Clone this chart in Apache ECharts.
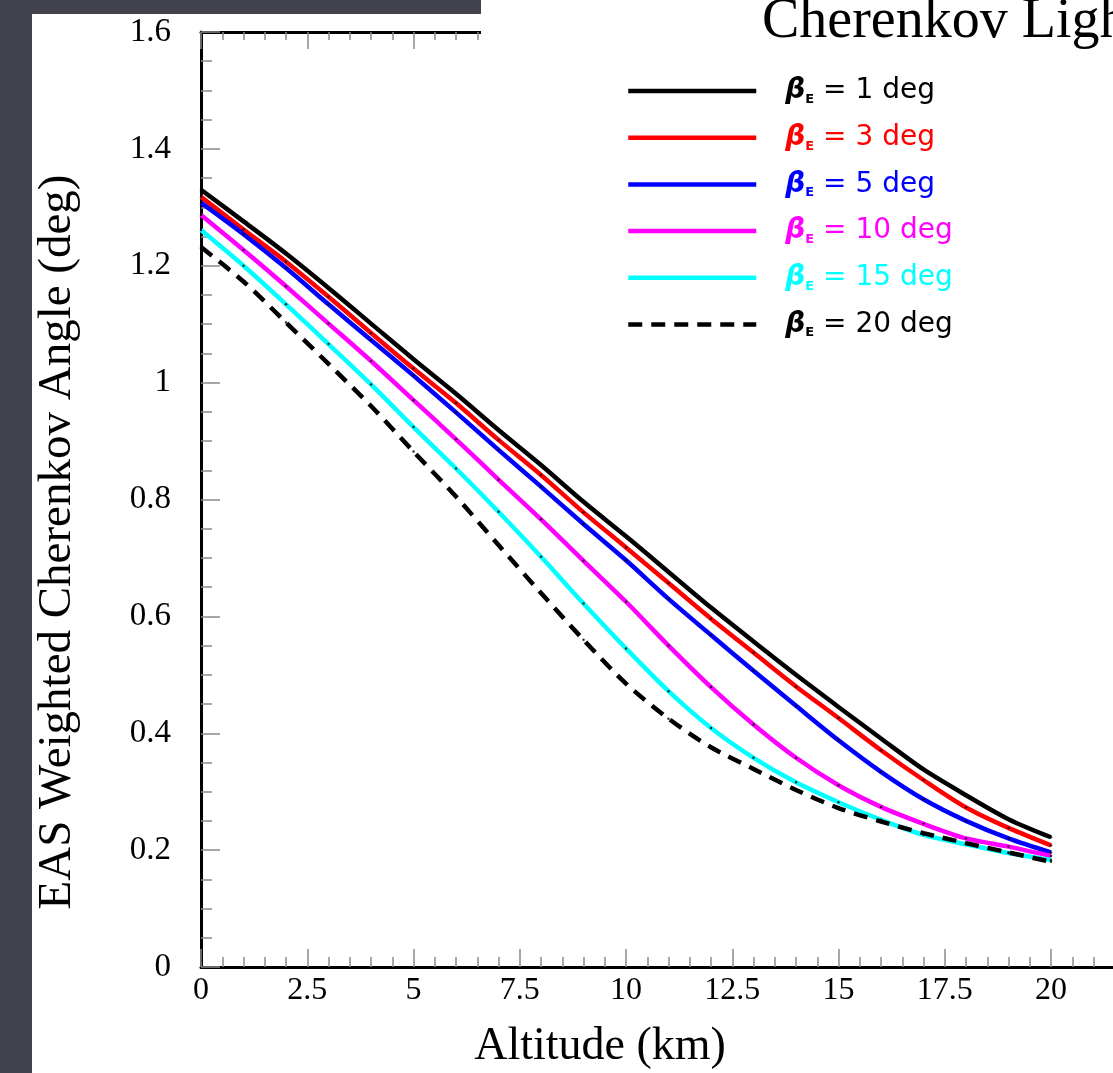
<!DOCTYPE html>
<html><head><meta charset="utf-8">
<script src="https://cdn.jsdelivr.net/npm/echarts@6/dist/echarts.min.js"></script>
<style>html,body{margin:0;padding:0;background:#fff;overflow:hidden}#c{width:1113px;height:1073px}</style>
</head><body><div id="c"></div>
<script>
// ---- data ----
const altitudeKm = [0,1,2,3,4,5,6,7,8,9,10,11,12,13,14,15,16,17,18,19,20];
const beta1deg  = [1.330,1.276,1.221,1.162,1.101,1.040,0.981,0.919,0.859,0.796,0.737,0.676,0.615,0.557,0.500,0.445,0.391,0.338,0.294,0.253,0.222];
const beta3deg  = [1.318,1.262,1.207,1.147,1.085,1.024,0.965,0.902,0.842,0.778,0.718,0.657,0.596,0.538,0.480,0.426,0.371,0.320,0.273,0.238,0.208];
const beta5deg  = [1.308,1.254,1.196,1.134,1.073,1.012,0.949,0.885,0.822,0.758,0.696,0.630,0.568,0.507,0.447,0.388,0.334,0.287,0.250,0.220,0.196];
const beta10deg = [1.287,1.227,1.165,1.101,1.037,0.970,0.903,0.834,0.766,0.695,0.625,0.550,0.479,0.415,0.358,0.311,0.274,0.245,0.220,0.206,0.190];
const beta15deg = [1.261,1.200,1.134,1.066,0.997,0.924,0.853,0.779,0.702,0.622,0.545,0.472,0.409,0.358,0.316,0.282,0.252,0.226,0.210,0.195,0.183];
const beta20deg = [1.232,1.173,1.103,1.032,0.960,0.882,0.805,0.722,0.640,0.560,0.485,0.425,0.376,0.339,0.303,0.272,0.249,0.229,0.212,0.196,0.180];
const seriesLabels = ['1 deg','3 deg','5 deg','10 deg','15 deg','20 deg'];
const xTickLabels = ['0','2.5','5','7.5','10','12.5','15','17.5','20','22.5'];
const yTickLabels = ['0','0.2','0.4','0.6','0.8','1','1.2','1.4','1.6'];
const chartTitle = 'Cherenkov Light';
const xTitle = 'Altitude (km)';
const yTitle = 'EAS Weighted Cherenkov Angle (deg)';

// ---- styling ----
const allValues = [beta1deg,beta3deg,beta5deg,beta10deg,beta15deg,beta20deg];
const colors = ['#000000','#ff0000','#0000ff','#ff00ff','#00ffff','#000000'];
const dash = ['solid','solid','solid','solid','solid',[14,9]];
const keys = ['k','r','b','m','c','d'];
const serif = "'Liberation Serif','Times New Roman',serif";
const sans = "'DejaVu Sans',sans-serif";

const rich = {};
keys.forEach((k,i)=>{
  rich[k+'g'] = {fontFamily:sans,fontSize:28,fontStyle:'italic',fontWeight:'bold',color:colors[i],padding:[0,0,0,24],lineHeight:30};
  rich[k+'s'] = {fontFamily:sans,fontSize:13,fontWeight:'bold',color:colors[i],verticalAlign:'bottom',lineHeight:22};
  rich[k+'t'] = {fontFamily:sans,fontSize:28,color:colors[i],lineHeight:30};
});

const lineSeries = allValues.map((vals,i)=>({
  name: seriesLabels[i],
  type:'line',
  data: altitudeKm.map((x,j)=>[x, vals[j]]),
  smooth: 0.3,
  symbol:'none',
  lineStyle:{color:colors[i], width:4.5, type:dash[i]},
  itemStyle:{color:colors[i]},
  z: 3 + i*0.01
}));
const dotSeries = {
  type:'scatter',
  data: allValues.flatMap(vals=>altitudeKm.map((x,j)=>[x, vals[j]])),
  symbolSize:2.5,
  itemStyle:{color:'#000'},
  silent:true,
  z:5
};

const tickGray = '#8a8a8a';
function axisCommon(extra){
  return Object.assign({
    type:'value',
    axisLine:{show:true,onZero:false,lineStyle:{color:'#000',width:3}},
    splitLine:{show:false}
  }, extra);
}

const chart = echarts.init(document.getElementById('c'), null, {renderer:'canvas'});
chart.setOption({
  animation:false,
  backgroundColor:'#ffffff',
  grid:{left:201, top:32, width:956.25, height:935, containLabel:false, outerBoundsMode:'none'},
  xAxis:[
    axisCommon({position:'bottom', min:0, max:22.5, interval:2.5,
      axisTick:{show:true,inside:true,length:18,lineStyle:{color:tickGray,width:1.5}},
      minorTick:{show:true,splitNumber:5,length:10,lineStyle:{color:tickGray,width:1.5}},
      axisLabel:{margin:8,fontFamily:serif,fontSize:32,color:'#000',
        formatter:(v)=>xTickLabels[Math.round(v/2.5)]}}),
    axisCommon({position:'top', min:0, max:22.5, interval:2.5,
      axisTick:{show:true,inside:true,length:17,lineStyle:{color:tickGray,width:1.5}},
      minorTick:{show:true,splitNumber:5,length:8,lineStyle:{color:tickGray,width:1.5}},
      axisLabel:{show:false}})
  ],
  yAxis:[
    axisCommon({position:'left', min:0, max:1.6, interval:0.2,
      axisTick:{show:true,inside:true,length:19,lineStyle:{color:tickGray,width:1.5}},
      minorTick:{show:true,splitNumber:4,length:11,lineStyle:{color:tickGray,width:1.5}},
      axisLabel:{margin:30,fontFamily:serif,fontSize:33,color:'#000',
        formatter:(v)=>yTickLabels[Math.round(v/0.2)]}})
  ],
  legend:{
    orient:'vertical', left:626, top:76, padding:0,
    itemWidth:128, itemHeight:30, itemGap:16.7,
    selectedMode:false,
    lineStyle:{width:'inherit'},
    itemStyle:{color:'rgba(0,0,0,0)', borderWidth:0, opacity:0},
    data: seriesLabels.slice(),
    textStyle:{rich:rich, lineHeight:30},
    formatter:(name)=>{
      const i = seriesLabels.indexOf(name); const k = keys[i];
      return '{'+k+'g|β}{'+k+'s|E}{'+k+'t| = '+name+'}';
    }
  },
  graphic:[
    {type:'rect', shape:{x:0,y:0,width:32,height:1073}, style:{fill:'#41424c'}, z:200, silent:true},
    {type:'rect', shape:{x:0,y:0,width:481,height:14}, style:{fill:'#41424c'}, z:200, silent:true},
    {type:'rect', shape:{x:481,y:0,width:700,height:52}, style:{fill:'#ffffff'}, z:150, silent:true},
    {type:'text', x:762, y:-6, z:160, silent:true,
      style:{text:chartTitle, fontFamily:serif, fontSize:56, fill:'#000', textAlign:'left', textVerticalAlign:'top'}},
    {type:'text', x:600, y:1047, z:160, silent:true,
      style:{text:xTitle, fontFamily:serif, fontSize:46, fill:'#000', textAlign:'center', textVerticalAlign:'middle'}},
    {type:'text', x:58, y:542, rotation:Math.PI/2, z:160, silent:true,
      style:{text:yTitle, fontFamily:serif, fontSize:47, fill:'#000', textAlign:'center', textVerticalAlign:'middle'}}
  ],
  series: lineSeries.concat([dotSeries])
});
</script></body></html>
